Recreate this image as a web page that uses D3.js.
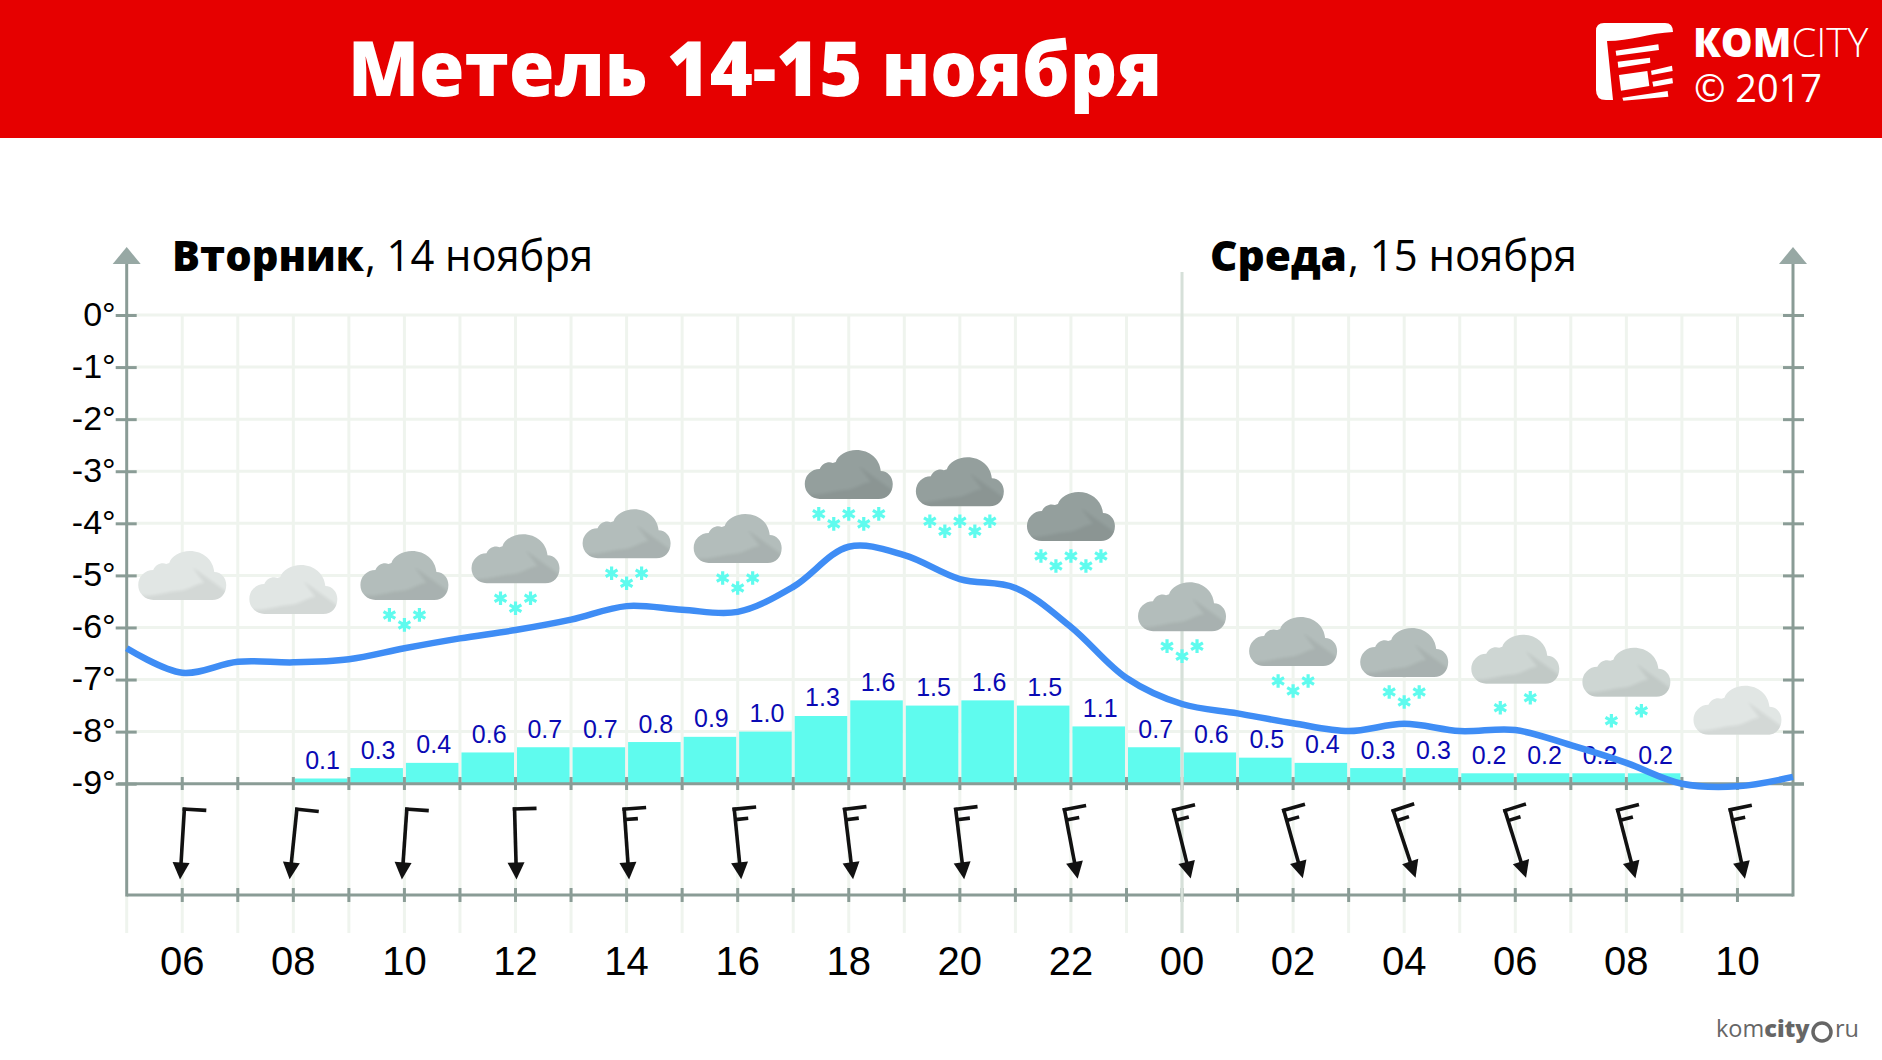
<!DOCTYPE html>
<html lang="ru"><head><meta charset="utf-8"><title>Метель 14-15 ноября</title>
<script src="https://cdn.jsdelivr.net/npm/d3@7"></script>
<style>html,body{margin:0;padding:0;background:#fff}svg{display:block}</style></head>
<body><div id="chart"></div>
<script>
// ---- data ----
const titleText = "Метель 14-15 ноября";
const hourTicks = [6,8,10,12,14,16,18,20,22,24,26,28,30,32,34];
const hourLabels = ["06","08","10","12","14","16","18","20","22","00","02","04","06","08","10"];
const tempTicks = [0,-1,-2,-3,-4,-5,-6,-7,-8,-9];
const tempHours = [5,6,7,8,9,10,11,12,13,14,15,16,17,18,19,20,21,22,23,24,25,26,27,28,29,30,31,32,33,34,35];
const temps = [-6.40,-6.87,-6.66,-6.67,-6.61,-6.40,-6.21,-6.05,-5.85,-5.59,-5.66,-5.70,-5.22,-4.45,-4.61,-5.07,-5.24,-5.99,-6.97,-7.47,-7.65,-7.84,-7.99,-7.85,-7.99,-7.97,-8.26,-8.60,-9.00,-9.05,-8.87];
const snowHours = [8,9,10,11,12,13,14,15,16,17,18,19,20,21,22,23,24,25,26,27,28,29,30,31,32];
const snowfall = ["0.1","0.3","0.4","0.6","0.7","0.7","0.8","0.9","1.0","1.3","1.6","1.5","1.6","1.5","1.1","0.7","0.6","0.5","0.4","0.3","0.3","0.2","0.2","0.2","0.2"];
const cloudLevels = [-4.53,-4.80,-4.53,-4.21,-3.73,-3.82,-2.59,-2.73,-3.40,-5.13,-5.80,-6.01,-6.14,-6.39,-7.12];
const cloudShades = ["#e1e6e4","#e1e6e4","#b3bdbb","#b3bdbb","#b3bdbb","#b3bdbb","#949f9d","#949f9d","#949f9d","#b3bdbb","#b3bdbb","#b3bdbb","#ced6d3","#ced6d3","#e1e6e4"];
const flakeCounts = [0,0,3,3,3,3,5,5,5,3,3,3,2,2,0];
const windAngles = [3.5,5.9,4,-1.6,-4,-5.7,-6.9,-6.9,-10.8,-14,-15.7,-18.4,-17.4,-14.6,-12];
const windBarbs = [1,1,1,1,2,2,2,2,2,2,2,2,2,2,2];

// ---- layout ----
const W = 1882, H = 1060;
const AXIS = "#8a9c96", GRID = "#eff4ee", BAR = "#5ffbee", LINE = "#3f8df5", VALUE = "#0a0ab4", RED = "#e60000";
const x = d3.scaleLinear().domain([5,35]).range([126.7,1793]);
const y = d3.scaleLinear().domain([0,-9]).range([315,783.7]);
const snowH = d3.scaleLinear().domain([0,1]).range([0,y(-1)-y(0)]);
const yBottom = 895, yExt = 933;
const allHours = d3.range(5,36);
const sans = "'Liberation Sans',Arial,sans-serif", open = "'Open Sans',sans-serif";

const svg = d3.select("#chart").append("svg").attr("width",W).attr("height",H).attr("viewBox",`0 0 ${W} ${H}`);
svg.append("rect").attr("width",W).attr("height",H).attr("fill","#fff");

// header
svg.append("rect").attr("width",W).attr("height",138).attr("fill",RED);
svg.append("text").attr("x",348).attr("y",96).attr("font-family",open).attr("font-weight",800).attr("font-size",76)
  .attr("fill","#fff").attr("textLength",814).attr("lengthAdjust","spacingAndGlyphs").text(titleText);

// logo
const logo = svg.append("g").attr("fill","#fff");
logo.append("path").attr("d","M1604,23 L1665,23 Q1673,23 1673,32 C1650,33 1630,41 1607,41 L1613,100 L1606,100 Q1596,100 1596,90 L1596,31 Q1596,23 1604,23 Z");
[[[227,152],[355,133],[357,150],[229,167]],[[233,185],[330,173],[331,188],[235,203]],[[237,225],[322,213],[328,258],[243,272]],
 [[333,212],[396,197],[398,213],[335,225]],[[337,245],[397,234],[399,250],[340,260]],[[247,293],[383,273],[385,290],[250,302]]]
 .forEach(q=>logo.append("polygon").attr("points",q.map(p=>[1540+p[0]/3,p[1]/3].join(",")).join(" ")));
const brand = logo.append("text").attr("x",1693).attr("y",57).attr("font-family",open).attr("font-size",40);
brand.append("tspan").attr("font-weight",800).text("КОМ");
brand.append("tspan").attr("font-weight",300).text("CITY");
logo.append("text").attr("x",1694).attr("y",102).attr("font-family",open).attr("font-weight",400).attr("font-size",39)
  .attr("textLength",128).attr("lengthAdjust","spacingAndGlyphs").text("© 2017");

// day headings
function heading(xb,wb,bold,xr,wr,rest){
  svg.append("text").attr("x",xb).attr("y",271).attr("font-family",open).attr("font-weight",800).attr("font-size",43)
    .attr("textLength",wb).attr("lengthAdjust","spacingAndGlyphs").attr("fill","#000").text(bold);
  svg.append("text").attr("x",xr).attr("y",271).attr("font-family",open).attr("font-weight",400).attr("font-size",43)
    .attr("textLength",wr).attr("lengthAdjust","spacingAndGlyphs").attr("fill","#000").text(rest);
}
heading(172,192,"Вторник",365,228,", 14 ноября");
heading(1210,137,"Среда",1348,229,", 15 ноября");

// grid
const grid = svg.append("g").attr("stroke",GRID).attr("stroke-width",3);
grid.selectAll(".h").data(tempTicks.slice(0,-1)).join("line").attr("x1",x(5)).attr("x2",x(35)).attr("y1",d=>y(d)).attr("y2",d=>y(d));
grid.selectAll(".v").data(allHours.slice(1,-1)).join("line").attr("class","v").attr("x1",d=>x(d)).attr("x2",d=>x(d)).attr("y1",y(0)).attr("y2",yBottom);
grid.selectAll(".e").data(allHours.slice(0,-2)).join("line").attr("class","e").attr("x1",d=>x(d)).attr("x2",d=>x(d)).attr("y1",yBottom).attr("y2",yExt);

// snowfall bars
const bars = svg.append("g");
const snow = snowHours.map((h,i)=>({h,label:snowfall[i],v:+snowfall[i]}));
bars.selectAll("rect").data(snow).join("rect")
  .attr("x",d=>x(d.h)+1.5).attr("width",d=>x(d.h+1)-x(d.h)-3)
  .attr("y",d=>y(-9)-snowH(d.v)).attr("height",d=>snowH(d.v)).attr("fill",BAR);

// axes
const axes = svg.append("g").attr("stroke",AXIS).attr("stroke-width",3).attr("fill","none");
axes.append("line").attr("x1",x(5)).attr("x2",x(5)).attr("y1",258).attr("y2",yBottom+1.5);
axes.append("line").attr("x1",x(35)).attr("x2",x(35)).attr("y1",258).attr("y2",yBottom+1.5);
axes.append("line").attr("x1",x(5)).attr("x2",x(35)).attr("y1",yBottom).attr("y2",yBottom);
axes.append("line").attr("x1",x(5)-9).attr("x2",x(35)+11).attr("y1",y(-9)).attr("y2",y(-9)).attr("stroke-width",3);
[x(5),x(35)].forEach(a=>svg.append("polygon").attr("points",`${a},247 ${a+14},264 ${a-14},264`).attr("fill","#97a8a4"));
axes.selectAll(".t1").data(allHours.slice(1,-1)).join("line").attr("class","t1").attr("x1",d=>x(d)).attr("x2",d=>x(d)).attr("y1",777).attr("y2",790);
axes.selectAll(".t2").data(allHours.slice(1,-1)).join("line").attr("class","t2").attr("x1",d=>x(d)).attr("x2",d=>x(d)).attr("y1",888).attr("y2",902);

const gl = svg.append("g").attr("transform",`translate(${x(5)},0)`)
  .call(d3.axisLeft(y).tickValues(tempTicks).tickFormat(d=>`${d}°`).tickSize(11).tickPadding(12));
gl.select(".domain").remove();
gl.selectAll("line").attr("stroke",AXIS).attr("stroke-width",3).attr("x1",10);
gl.selectAll("text").attr("font-family",sans).attr("font-size",34).attr("fill","#000").attr("x",-11).attr("dy","0.3em");
const gr = svg.append("g").attr("transform",`translate(${x(35)},0)`)
  .call(d3.axisRight(y).tickValues(tempTicks).tickFormat("").tickSize(11));
gr.select(".domain").remove();
gr.selectAll("line").attr("stroke",AXIS).attr("stroke-width",3).attr("x1",-10);

const gb = svg.append("g").attr("transform",`translate(-0.5,${yBottom})`)
  .call(d3.axisBottom(x).tickValues(hourTicks).tickFormat((d,i)=>hourLabels[i]).tickSize(0));
gb.select(".domain").remove();
gb.selectAll("text").attr("font-family",sans).attr("font-size",40).attr("fill","#000").attr("y",80).attr("dy",0);

// midnight separator
svg.append("line").attr("x1",x(24)).attr("x2",x(24)).attr("y1",272).attr("y2",yExt).attr("stroke","#d6e0d9").attr("stroke-width",3);

// snowfall values
svg.append("g").selectAll("text").data(snow).join("text")
  .attr("x",d=>x(d.h+0.5)+1.5).attr("y",d=>y(-9)-snowH(d.v)-9.5).attr("text-anchor","middle")
  .attr("font-family",sans).attr("font-size",25).attr("fill",VALUE).text(d=>d.label);

// clouds
const cloudPath = "M-29,49 A15,15 0 0 1 -29,19 C-27,14 -21,11 -16,13 L-13,12 C-11,5 -2,0 7.5,0 C21,0 31,9 32,21 C39,21 44,27 44,34 C44,43 38,49 30,49 Z";
const defs = svg.append("defs");
defs.append("clipPath").attr("id","cloudClip").append("path").attr("d",cloudPath);
defs.append("filter").attr("id","soft").attr("x","-20%").attr("y","-20%").attr("width","140%").attr("height","140%")
  .append("feGaussianBlur").attr("stdDeviation",1.6);
const cloud = svg.append("g").selectAll("g").data(hourTicks.map((h,i)=>({h,level:cloudLevels[i],shade:cloudShades[i],n:flakeCounts[i]}))).join("g")
  .attr("transform",d=>`translate(${x(d.h)},${y(d.level)})`);
cloud.append("path").attr("d",cloudPath).attr("fill",d=>d.shade);
const shadeG = cloud.append("g").attr("clip-path","url(#cloudClip)");
shadeG.append("path").attr("filter","url(#soft)").attr("d","M-48,44 C-30,47 -18,41 -4,40 C8,39 12,33 22,32 L10,16 L46,42 L48,54 L-48,54 Z").attr("fill","#000").attr("opacity",0.06);

// flakes
const flakeLayouts = {0:[],2:[[-15,24],[15,14]],3:[[-15,15],[0,25],[15,15]],5:[[-30,15],[-15,25],[0,15],[15,25],[30,15]]};
const flake = d3.symbol().type(d3.symbolAsterisk).size(130);
cloud.each(function(d){
  d3.select(this).selectAll("path.f").data(flakeLayouts[d.n]).join("path").attr("class","f")
    .attr("d",flake).attr("transform",p=>`translate(${p[0]},${49+p[1]})`)
    .attr("fill","none").attr("stroke",BAR).attr("stroke-width",3.2);
});

// wind arrows
const wind = svg.append("g").selectAll("g").data(hourTicks.map((h,i)=>({h,a:windAngles[i],b:windBarbs[i]}))).join("g")
  .attr("transform",d=>`translate(${x(d.h)},843.5) rotate(${d.a})`);
wind.append("line").attr("y1",-36).attr("y2",22).attr("stroke","#111").attr("stroke-width",3.6);
wind.append("polygon").attr("points","0,36 -8.5,19 8.5,19").attr("fill","#111");
wind.append("line").attr("x1",-1.8).attr("x2",22).attr("y1",-34.5).attr("y2",-34.5).attr("stroke","#111").attr("stroke-width",3.6);
wind.filter(d=>d.b>1).append("line").attr("x1",0).attr("x2",13).attr("y1",-24).attr("y2",-24).attr("stroke","#111").attr("stroke-width",3.6);

// temperature line
const line = d3.line().x((d,i)=>x(tempHours[i])).y(d=>y(d)).curve(d3.curveCatmullRom.alpha(0.5));
svg.append("path").datum(temps).attr("d",line).attr("fill","none").attr("stroke",LINE).attr("stroke-width",6.5);

// footer mark
const foot = svg.append("g").attr("fill","#666").attr("font-family",open).attr("font-size",23.5);
const komcity = foot.append("text").attr("x",1716).attr("y",1037).attr("font-weight",500);
komcity.append("tspan").text("kom");
komcity.append("tspan").attr("font-weight",800).text("city");
foot.append("circle").attr("cx",1822).attr("cy",1032).attr("r",9).attr("fill","none").attr("stroke","#666").attr("stroke-width",3.5);
foot.append("text").attr("x",1835).attr("y",1037).attr("font-weight",500).text("ru");
</script></body></html>
